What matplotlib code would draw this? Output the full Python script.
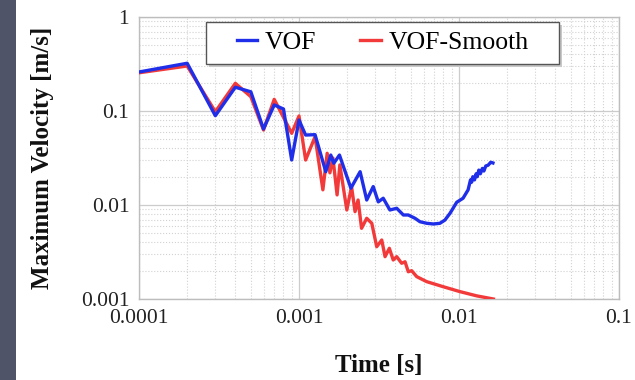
import matplotlib
matplotlib.use("Agg")
import matplotlib.pyplot as plt
from matplotlib.patches import Rectangle
from matplotlib.ticker import LogLocator, FixedLocator, FixedFormatter, NullFormatter

plt.rcParams['font.family'] = ['Liberation Serif', 'DejaVu Serif']

# ---- data ----
vof_t = [1.0e-4, 2.0e-4, 3.0e-4, 4.0e-4, 5.0e-4, 6.0e-4, 7.0e-4, 8.0e-4, 9.0e-4,
         1.0e-3, 1.1e-3, 1.26e-3, 1.47e-3, 1.58e-3, 1.65e-3, 1.79e-3, 2.11e-3,
         2.41e-3, 2.65e-3, 2.91e-3, 3.13e-3, 3.36e-3, 3.70e-3, 4.08e-3, 4.49e-3,
         4.82e-3, 5.31e-3, 5.70e-3, 6.28e-3, 6.91e-3, 7.60e-3, 8.17e-3, 8.79e-3,
         9.68e-3, 1.06e-2, 1.14e-2, 1.18e-2, 1.20e-2, 1.22e-2, 1.25e-2, 1.28e-2,
         1.30e-2, 1.33e-2, 1.36e-2, 1.40e-2, 1.43e-2, 1.47e-2, 1.52e-2, 1.58e-2,
         1.63e-2]
vof_v = [0.260, 0.322, 0.0891, 0.179, 0.160, 0.0644, 0.116, 0.105, 0.0301,
         0.0802, 0.0555, 0.0560, 0.0226, 0.0340, 0.0278, 0.0340, 0.0151,
         0.0226, 0.0113, 0.0157, 0.0108, 0.0118, 0.00885, 0.00923, 0.00783,
         0.00783, 0.00722, 0.00664, 0.00639, 0.00628, 0.00639, 0.00692, 0.00817,
         0.0107, 0.0118, 0.0145, 0.0185, 0.0175, 0.0200, 0.0185, 0.0215,
         0.0200, 0.0235, 0.0215, 0.0245, 0.0230, 0.0260, 0.0265, 0.0285,
         0.0280]

smooth_t = [1.0e-4, 2.0e-4, 3.0e-4, 4.0e-4, 5.0e-4, 6.0e-4, 7.0e-4, 9.0e-4,
            1.0e-3, 1.1e-3, 1.26e-3, 1.41e-3, 1.50e-3, 1.56e-3, 1.63e-3, 1.73e-3,
            1.80e-3, 1.99e-3, 2.13e-3, 2.24e-3, 2.34e-3, 2.46e-3, 2.65e-3, 2.85e-3,
            3.06e-3, 3.29e-3, 3.45e-3, 3.67e-3, 3.88e-3, 4.08e-3, 4.38e-3, 4.60e-3,
            4.82e-3, 5.06e-3, 5.44e-3, 6.28e-3, 7.98e-3, 1.01e-2, 1.29e-2, 1.64e-2]
smooth_v = [0.255, 0.301, 0.0983, 0.197, 0.142, 0.0628, 0.133, 0.0579,
            0.0885, 0.0301, 0.0533, 0.0145, 0.0355, 0.0220, 0.0316, 0.0128,
            0.0267, 0.00885, 0.0157, 0.00849, 0.0113, 0.00565, 0.00722, 0.00639,
            0.00360, 0.00424, 0.00282, 0.00346, 0.00260, 0.00282, 0.00240, 0.00249,
            0.00195, 0.00200, 0.00173, 0.00153, 0.00135, 0.00120, 0.00108, 0.00100]

x_ticks = [1e-4, 1e-3, 1e-2, 1e-1]
x_labels = ["0.0001", "0.001", "0.01", "0.1"]
y_ticks = [1e-3, 1e-2, 1e-1, 1]
y_labels = ["0.001", "0.01", "0.1", "1"]

W, H = 635, 380
AX_L, AX_R, AX_T, AX_B = 139, 619, 17, 299

fig = plt.figure(figsize=(W / 100, H / 100), dpi=100)
fig.patches.append(Rectangle((0, 0), 16 / W, 1, transform=fig.transFigure,
                             facecolor='#4f5468', edgecolor='none', zorder=0))
ax = fig.add_axes([AX_L / W, 1 - AX_B / H, (AX_R - AX_L) / W, (AX_B - AX_T) / H])

ax.plot(smooth_t, smooth_v, color='#f23a3a', lw=2.4, label='VOF-Smooth', zorder=3)
ax.plot(vof_t, vof_v, color='#1f2ee8', lw=2.4, label='VOF', zorder=4)

ax.set_xscale('log')
ax.set_yscale('log')
ax.set_xlim(1e-4, 1e-1)
ax.set_ylim(1e-3, 1)

ax.xaxis.set_major_locator(FixedLocator(x_ticks))
ax.xaxis.set_major_formatter(FixedFormatter(x_labels))
ax.yaxis.set_major_locator(FixedLocator(y_ticks))
ax.yaxis.set_major_formatter(FixedFormatter(y_labels))
ax.xaxis.set_minor_locator(LogLocator(base=10, subs=range(2, 10)))
ax.yaxis.set_minor_locator(LogLocator(base=10, subs=range(2, 10)))
ax.xaxis.set_minor_formatter(NullFormatter())
ax.yaxis.set_minor_formatter(NullFormatter())

ax.tick_params(which='both', length=0)
ax.tick_params(axis='x', pad=7, labelsize=15.5, colors='#222222')
ax.tick_params(axis='y', pad=7, labelsize=15.5, colors='#222222')

ax.grid(which='major', color='#cccccc', lw=0.9, ls='-')
ax.grid(which='minor', color='#d2d2d2', lw=0.8, ls=':')
ax.set_axisbelow(True)
for s in ax.spines.values():
    s.set_color('#bdbdbd')
    s.set_linewidth(1.0)

ax.set_xlabel('Time [s]', fontsize=18, fontweight='bold', labelpad=19, color='#111111')
ax.set_ylabel('Maximum Velocity [m/s]', fontsize=18, fontweight='bold', labelpad=19,
              color='#111111')

# legend box (frame drawn as a patch in axes coordinates)
def ax_xy(px, py):
    return (px - AX_L) / (AX_R - AX_L), (AX_B - py) / (AX_B - AX_T)

bx0, by0 = ax_xy(206, 64)
bx1, by1 = ax_xy(559, 22)
sx, sy = 2.5 / (AX_R - AX_L), 2.5 / (AX_B - AX_T)
ax.add_patch(Rectangle((bx0 + sx, by0 - sy), bx1 - bx0, by1 - by0, transform=ax.transAxes,
                       facecolor='#c8c8c8', edgecolor='none', zorder=5))
ax.add_patch(Rectangle((bx0, by0), bx1 - bx0, by1 - by0, transform=ax.transAxes,
                       facecolor='white', edgecolor='#555555', lw=1.0, zorder=6))

h, l = ax.get_legend_handles_labels()
cx, cy = ax_xy(382.5, 43)
leg = ax.legend([h[1], h[0]], [l[1], l[0]], loc='center', bbox_to_anchor=(cx, cy),
                ncol=2, fontsize=18.5, handlelength=0.8, handletextpad=0.3,
                columnspacing=1.7, frameon=False, borderpad=0.0)
leg.set_zorder(7)

fig.savefig('out.png', dpi=100)
